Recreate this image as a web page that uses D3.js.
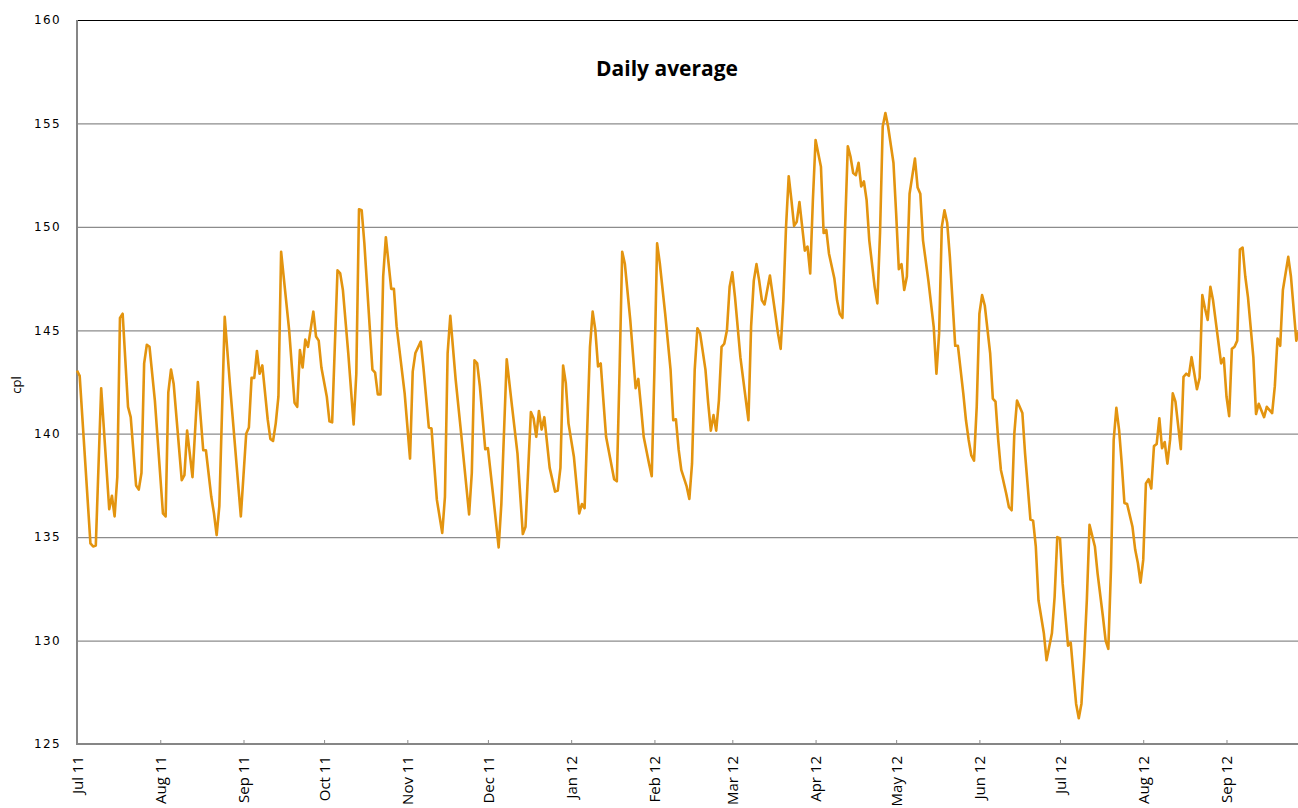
<!DOCTYPE html>
<html>
<head>
<meta charset="utf-8">
<script src="https://cdn.jsdelivr.net/npm/d3@7/dist/d3.min.js"></script>
<style>
  body { margin: 0; background: #fff; }
  svg { display: block; }
</style>
</head>
<body>
<svg width="1298" height="808"></svg>
<script>
// days since 1 Jul 2011 at each visible vertex
var dayOffsets = [
  0,1,5,6,7,9,12,13,14,15,16,17,19,20,22,23,24,25,26,27,29,32,33,34,35,36,39,40,41,43,45,47,48,50,51,52,53,55,57,
  61,63,64,65,66,67,68,69,71,72,73,74,75,76,79,81,82,83,84,85,86,88,89,90,91,93,94,95,97,98,99,101,103,104,105,106,107,
  110,111,112,113,114,115,117,118,119,122,124,125,126,128,129,131,132,134,136,137,138,139,141,143,146,147,148,149,150,152,153,155,157,158,
  160,162,164,166,167,169,170,171,172,173,174,176,178,179,180,181,182,183,185,187,188,189,191,192,193,194,195,196,197,
  200,201,202,203,204,206,208,209,210,211,213,214,215,216,217,219,221,222,223,224,225,227,228,229,230,231,232,234,235,236,237,238,239,
  240,241,242,243,244,245,247,250,251,252,253,254,255,256,258,260,261,262,263,264,265,266,267,268,269,271,272,273,274,275,277,278,279,
  280,282,283,284,285,286,287,288,289,290,291,292,293,294,295,297,298,299,300,301,302,304,305,306,307,308,309,310,312,313,314,315,317,319,
  320,321,322,323,324,325,327,328,330,331,332,333,334,335,336,337,338,340,341,342,343,344,346,347,348,349,350,352,353,354,355,356,357,358,
  360,361,363,364,365,366,367,369,370,371,372,373,374,375,376,377,379,380,382,383,384,385,386,387,388,389,390,391,393,394,395,396,397,398,399,
  400,401,402,403,404,405,406,407,408,409,411,412,413,414,415,417,418,419,420,421,422,423,426,427,428,429,430,431,432,433,434,435,436,438,439,
  440,442,443,445,446,447,448,449,451,452,454,455
];

var cpl = [
  143.05,142.8,134.7,134.55,134.6,142.2,136.35,137.0,136.0,137.9,145.6,145.8,141.3,140.8,137.5,137.3,138.1,143.4,144.3,144.2,141.6,136.15,136.0,142.0,143.1,142.4,137.75,138.0,140.15,137.9,142.5,139.2,139.2,136.95,136.15,135.1,136.5,145.65,142.3,
  136.0,140.0,140.3,142.7,142.7,144.0,142.9,143.3,140.7,139.75,139.65,140.5,141.8,148.8,145.0,141.5,141.3,144.05,143.2,144.55,144.2,145.9,144.7,144.5,143.2,141.8,140.6,140.55,147.9,147.75,146.95,143.9,140.45,142.9,150.85,150.8,149.2,
  143.1,142.95,141.9,141.9,147.6,149.5,147.0,147.0,145.2,141.95,138.8,143.0,143.9,144.45,143.2,140.3,140.25,136.8,135.2,136.95,143.9,145.7,142.6,140.05,136.1,138.1,143.55,143.4,142.3,139.25,139.3,136.95,134.5,136.6,
  143.6,141.3,139.05,135.15,135.5,141.05,140.75,139.85,141.1,140.2,140.8,138.35,137.2,137.25,138.35,143.3,142.45,140.5,138.9,136.15,136.6,136.4,144.2,145.9,145.0,143.25,143.4,141.6,139.85,
  137.8,137.7,142.9,148.8,148.2,145.5,142.2,142.65,141.3,139.85,138.55,137.95,143.1,149.2,148.25,145.8,143.1,140.65,140.7,139.25,138.25,137.45,136.85,138.55,143.1,145.1,144.85,143.1,141.5,140.15,140.9,140.15,141.6,
  144.2,144.35,145.0,147.1,147.8,146.6,143.7,140.65,145.2,147.4,148.2,147.4,146.45,146.25,147.65,145.8,144.85,144.1,146.45,150.0,152.45,151.3,150.05,150.25,151.2,148.85,149.05,147.75,151.3,154.2,152.9,149.7,149.85,
  148.7,147.5,146.45,145.8,145.6,150.0,153.9,153.4,152.6,152.5,153.1,151.95,152.2,151.3,149.35,147.1,146.3,149.7,154.85,155.5,154.85,153.1,150.65,147.95,148.2,146.95,147.6,151.6,153.3,151.9,151.6,149.35,147.4,145.15,
  142.9,144.85,150.0,150.8,150.2,148.55,144.25,144.25,141.95,140.65,139.7,138.95,138.7,141.3,145.8,146.7,146.2,143.9,141.7,141.55,139.7,138.25,137.1,136.45,136.3,140.0,141.6,141.0,139.05,137.45,135.85,135.8,134.55,131.95,
  130.35,129.05,130.35,132.1,135.0,134.95,132.75,129.75,129.9,128.4,126.95,126.25,126.95,129.2,131.95,135.6,134.55,133.25,131.15,130.0,129.6,133.5,139.7,141.25,140.2,138.55,136.65,136.6,135.5,134.4,133.75,132.8,133.9,137.6,137.8,
  137.35,139.4,139.5,140.75,139.3,139.6,138.55,139.7,141.95,141.55,139.25,142.75,142.9,142.8,143.7,142.15,142.7,146.7,146.05,145.5,147.1,146.45,143.4,143.65,141.8,140.85,144.1,144.2,144.5,148.9,149.0,147.6,146.6,143.7,140.95,
  141.45,140.8,141.3,141.0,142.3,144.6,144.25,146.95,148.55,147.6,144.5,145.0
];

var yTicks = [125, 130, 135, 140, 145, 150, 155, 160];
var title = "Daily average";
var yLabel = "cpl";

var start = new Date(2011, 6, 1);
var data = dayOffsets.map(function(d, i){
  return { date: d3.timeDay.offset(start, d), value: cpl[i] };
});

var plotLeft = 77, plotRight = 1299, plotTop = 20, plotBottom = 744;

var x = d3.scaleTime()
  .domain([start, d3.timeDay.offset(start, 455)])
  .range([plotLeft, plotRight]);

var y = d3.scaleLinear()
  .domain([125, 160])
  .range([plotBottom, plotTop]);

var svg = d3.select("svg");

// horizontal gridlines
svg.append("g")
  .selectAll("line")
  .data(yTicks.filter(function(t){ return t > 125; }))
  .enter()
  .append("line")
    .attr("x1", plotLeft)
    .attr("x2", 1298)
    .attr("y1", function(d){ return y(d) + 0.5; })
    .attr("y2", function(d){ return y(d) + 0.5; })
    .attr("stroke", function(d){ return d === 160 ? "#000" : "#8c8c8c"; })
    .attr("stroke-width", 1.2);

// y labels
svg.append("g")
  .selectAll("text")
  .data(yTicks)
  .enter()
  .append("text")
    .attr("x", 61)
    .attr("y", function(d){ return y(d); })
    .attr("dy", "0.36em")
    .attr("text-anchor", "end")
    .style("font-family", "DejaVu Sans, sans-serif")
    .style("font-size", "12px")
    .style("letter-spacing", "1.4px")
    .attr("fill", "#000")
    .text(function(d){ return d; });

// x axis ticks + labels
var xAxis = d3.axisBottom(x)
  .ticks(d3.timeMonth.every(1))
  .tickFormat(d3.timeFormat("%b %y"))
  .tickSize(-4)
  .tickPadding(0);

var gx = svg.append("g")
  .attr("transform", "translate(0," + plotBottom + ")")
  .call(xAxis);

gx.select(".domain").remove();
gx.selectAll(".tick line")
  .attr("stroke", "#8c8c8c")
  .attr("stroke-width", 1);
gx.selectAll(".tick text")
  .attr("transform", "rotate(-90)")
  .attr("x", -12)
  .attr("y", 0)
  .attr("dy", "0.35em")
  .attr("text-anchor", "end")
  .style("font-family", "Open Sans, sans-serif")
  .style("font-size", "15px")
  .attr("fill", "#000");

// axis lines
svg.append("line")
  .attr("x1", plotLeft).attr("x2", plotLeft)
  .attr("y1", plotTop).attr("y2", plotBottom + 1)
  .attr("stroke", "#868686").attr("stroke-width", 2);
svg.append("line")
  .attr("x1", plotLeft).attr("x2", 1298)
  .attr("y1", plotBottom).attr("y2", plotBottom)
  .attr("stroke", "#868686").attr("stroke-width", 2);

// price line
var line = d3.line()
  .x(function(d){ return x(d.date); })
  .y(function(d){ return y(d.value); });

svg.append("path")
  .datum(data)
  .attr("d", line)
  .attr("fill", "none")
  .attr("stroke", "#E3940F")
  .attr("stroke-width", 2.6)
  .attr("stroke-linejoin", "round");

// title
svg.append("text")
  .attr("x", 667)
  .attr("y", 76)
  .attr("text-anchor", "middle")
  .style("font-family", "Open Sans, sans-serif")
  .style("font-weight", "bold")
  .style("font-size", "21px")
  .text(title);

// y axis title
svg.append("text")
  .attr("transform", "translate(21,385) rotate(-90)")
  .attr("text-anchor", "middle")
  .style("font-family", "Open Sans, sans-serif")
  .style("font-size", "13px")
  .text(yLabel);
</script>
</body>
</html>
